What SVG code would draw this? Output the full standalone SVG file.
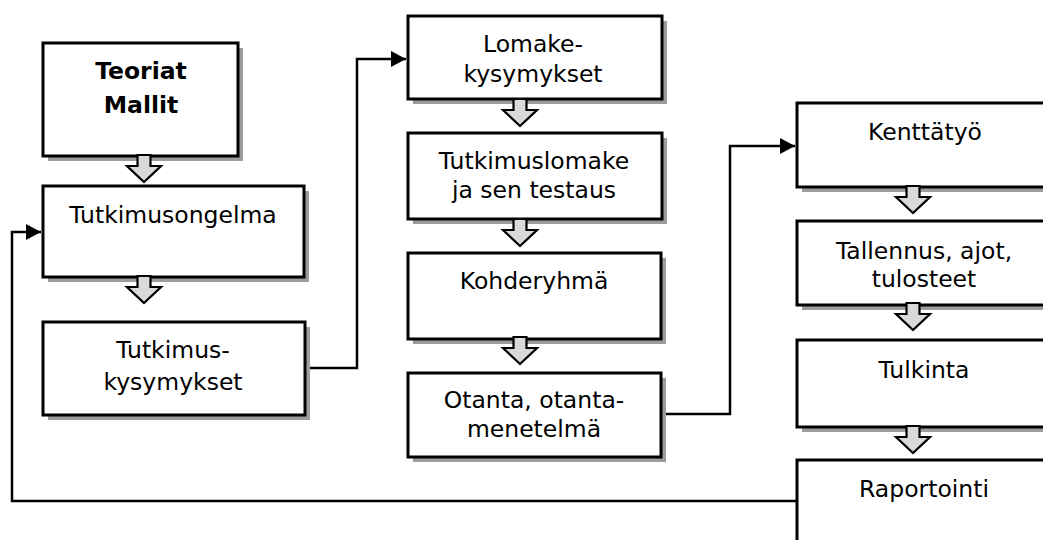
<svg xmlns="http://www.w3.org/2000/svg" width="1043" height="540" viewBox="0 0 1043 540">
  <defs>
    <style>
      .shadow { fill: #9c9c9c; }
      .box { fill: #ffffff; stroke: #000000; stroke-width: 3; }
      .lbl { font-family: "DejaVu Sans", "Liberation Sans", sans-serif; font-size: 23.5px; fill: #000000; text-anchor: middle; }
      .bold { font-weight: bold; }
      .conn { fill: none; stroke: #000000; stroke-width: 2.5; }
      .flow { fill: #d9d9d9; stroke: #000000; stroke-width: 2.2; stroke-linejoin: miter; }
    </style>
    <marker id="ah" viewBox="0 0 15 16" refX="15" refY="8" markerWidth="15" markerHeight="16" markerUnits="userSpaceOnUse" orient="auto">
      <path d="M0,0 L15,8 L0,16 Z" fill="#000000"/>
    </marker>
    <path id="harrow" d="M-6.5,0 L6.5,0 L6.5,11 L17,11 L0,27 L-17,11 L-6.5,11 Z"/>
  </defs>
  <rect width="1043" height="540" fill="#ffffff"/>

  <g id="connectors">
    <polyline class="conn" points="305,368 357,368 357,59 406,59" marker-end="url(#ah)"/>
    <polyline class="conn" points="661,414 730,414 730,146 795,146" marker-end="url(#ah)"/>
    <polyline class="conn" points="797,501 12,501 12,232 41,232" marker-end="url(#ah)"/>
  </g>

  <g id="node-teoriat">
    <rect class="shadow" x="48" y="48" width="195" height="113"/>
    <rect class="box" x="43" y="43" width="195" height="113"/>
    <text class="lbl bold" x="141" y="79">Teoriat</text>
    <text class="lbl bold" x="141" y="113">Mallit</text>
  </g>
  <g id="node-tutkimusongelma">
    <rect class="shadow" x="48" y="191" width="261" height="91"/>
    <rect class="box" x="43" y="186" width="261" height="91"/>
    <text class="lbl" x="173" y="223">Tutkimusongelma</text>
  </g>
  <g id="node-tutkimuskysymykset">
    <rect class="shadow" x="48" y="327" width="262" height="93"/>
    <rect class="box" x="43" y="322" width="262" height="93"/>
    <text class="lbl" x="173" y="358">Tutkimus-</text>
    <text class="lbl" x="173" y="390">kysymykset</text>
  </g>

  <g id="node-lomakekysymykset">
    <rect class="shadow" x="413" y="21" width="254" height="83"/>
    <rect class="box" x="408" y="16" width="254" height="83"/>
    <text class="lbl" x="533" y="52">Lomake-</text>
    <text class="lbl" x="533" y="82">kysymykset</text>
  </g>
  <g id="node-tutkimuslomake">
    <rect class="shadow" x="413" y="138" width="254" height="86"/>
    <rect class="box" x="408" y="133" width="254" height="86"/>
    <text class="lbl" x="534" y="169">Tutkimuslomake</text>
    <text class="lbl" x="534" y="198">ja sen testaus</text>
  </g>
  <g id="node-kohderyhma">
    <rect class="shadow" x="413" y="258" width="253" height="86"/>
    <rect class="box" x="408" y="253" width="253" height="86"/>
    <text class="lbl" x="534" y="289">Kohderyhmä</text>
  </g>
  <g id="node-otanta">
    <rect class="shadow" x="413" y="378" width="253" height="84"/>
    <rect class="box" x="408" y="373" width="253" height="84"/>
    <text class="lbl" x="534" y="408">Otanta, otanta-</text>
    <text class="lbl" x="534" y="437">menetelmä</text>
  </g>

  <g id="node-kenttatyo">
    <rect class="shadow" x="802" y="108" width="254" height="84"/>
    <rect class="box" x="797" y="103" width="254" height="84"/>
    <text class="lbl" x="925" y="140">Kenttätyö</text>
  </g>
  <g id="node-tallennus">
    <rect class="shadow" x="802" y="226" width="254" height="84"/>
    <rect class="box" x="797" y="221" width="254" height="84"/>
    <text class="lbl" x="924" y="259">Tallennus, ajot,</text>
    <text class="lbl" x="924" y="287">tulosteet</text>
  </g>
  <g id="node-tulkinta">
    <rect class="shadow" x="802" y="345" width="254" height="87"/>
    <rect class="box" x="797" y="340" width="254" height="87"/>
    <text class="lbl" x="924" y="378">Tulkinta</text>
  </g>
  <g id="node-raportointi">
    <rect class="shadow" x="802" y="465" width="254" height="90"/>
    <rect class="box" x="797" y="460" width="254" height="90"/>
    <text class="lbl" x="924" y="497">Raportointi</text>
  </g>

  <g id="flow-arrows">
    <use href="#harrow" class="flow" x="144" y="155"/>
    <use href="#harrow" class="flow" x="144" y="276"/>
    <use href="#harrow" class="flow" x="520" y="99"/>
    <use href="#harrow" class="flow" x="520" y="219"/>
    <use href="#harrow" class="flow" x="520" y="337"/>
    <use href="#harrow" class="flow" x="913" y="186"/>
    <use href="#harrow" class="flow" x="913" y="303"/>
    <use href="#harrow" class="flow" x="913" y="426"/>
  </g>
</svg>
